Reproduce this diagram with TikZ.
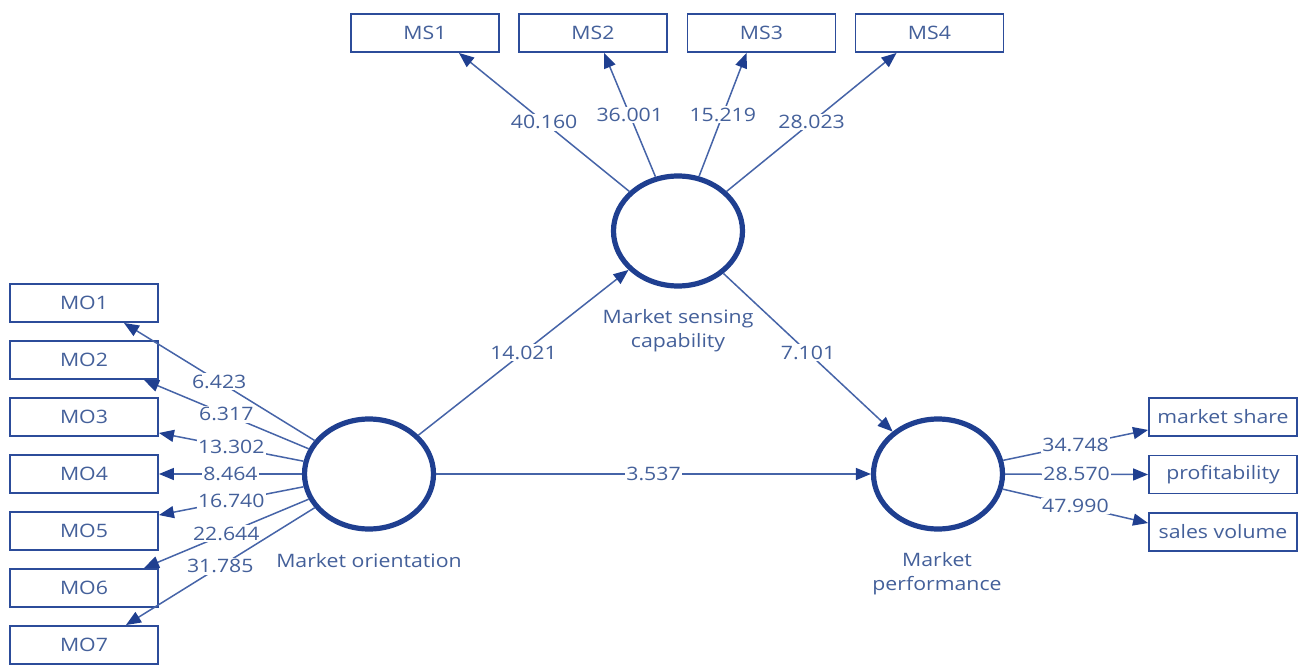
\documentclass[tikz,border=0pt]{standalone}
\usepackage{fontspec}
\setmainfont{Open Sans}[FakeStretch=1.15]
\usetikzlibrary{shapes.geometric,arrows.meta,calc}
\definecolor{navy}{HTML}{1F3F90}
\definecolor{linkblue}{HTML}{4664A8}
\definecolor{txtblue}{HTML}{44609A}
\definecolor{boxblue}{HTML}{2C4C9A}

\begin{document}
\begin{tikzpicture}[x=1pt,y=-1pt,
  every node/.style={font=\fontsize{18.5}{24}\selectfont, text=txtblue},
  ind/.style={draw=boxblue, line width=1.9pt, minimum width=148pt, minimum height=38pt, inner sep=0pt, fill=white},
  lat/.style={ellipse, draw=navy, line width=5.2pt, minimum width=129pt, minimum height=110pt, inner sep=0pt},
  link/.style={draw=linkblue, line width=1.5pt, -{Triangle[length=15pt,width=12pt,color=navy]}},
  coef/.style={fill=white, inner sep=1.5pt},
  caption/.style={align=center, inner sep=0pt},
]
\fill[white] (0,0) rectangle (1298,666);
\useasboundingbox (0,0) rectangle (1298,666);

% latent variables
\node[lat] (MO) at (369,474) {};
\node[lat] (MS) at (678,231) {};
\node[lat] (MP) at (938,474) {};

\node[caption] (MOcap) at (369,561) {Market orientation};
\node[caption] (MScap) at (678,331) {Market sensing\\capability};
\node[caption] (MPcap) at (937,574) {Market\\performance};

% indicators of market sensing capability
\node[ind] (MS1) at (425,33) {MS1};
\node[ind] (MS2) at (593,33) {MS2};
\node[ind] (MS3) at (761.5,33) {MS3};
\node[ind] (MS4) at (929.5,33) {MS4};

% indicators of market orientation
\node[ind] (MO1) at (84,303) {MO1};
\node[ind] (MO2) at (84,360) {MO2};
\node[ind] (MO3) at (84,417) {MO3};
\node[ind] (MO4) at (84,474) {MO4};
\node[ind] (MO5) at (84,531) {MO5};
\node[ind] (MO6) at (84,588) {MO6};
\node[ind] (MO7) at (84,645) {MO7};

% indicators of market performance
\node[ind] (share) at (1223,417) {market share};
\node[ind] (profit) at (1223,474.5) {profitability};
\node[ind] (sales) at (1223,532) {sales volume};

% outer loadings
\draw[link] (MS) -- node[coef] {40.160} ([xshift=-41pt]MS1.south east);
\draw[link] (MS) -- node[coef] {36.001} ([xshift=86pt]MS2.south west);
\draw[link] (MS) -- node[coef] {15.219} ([xshift=60pt]MS3.south west);
\draw[link] (MS) -- node[coef] {28.023} ([xshift=42pt]MS4.south west);

\draw[link] (MO) -- node[coef] {6.423} ([xshift=-35pt]MO1.south east);
\draw[link] (MO) -- node[coef] {6.317} ([xshift=-15pt]MO2.south east);
\draw[link] (MO) -- node[coef] {13.302} ([yshift=4pt]MO3.south east);
\draw[link] (MO) -- node[coef] {8.464} (MO4.east);
\draw[link] (MO) -- node[coef] {16.740} ([yshift=-4pt]MO5.north east);
\draw[link] (MO) -- node[coef] {22.644} ([xshift=-15pt]MO6.north east);
\draw[link] (MO) -- node[coef] {31.785} ([xshift=-33pt]MO7.north east);

\draw[link] (MP) -- node[coef] {34.748} ([yshift=7pt]share.south west);
\draw[link] (MP) -- node[coef] {28.570} (profit.west);
\draw[link] (MP) -- node[coef] {47.990} ([yshift=-11pt]sales.north west);

% structural paths
\draw[link] (MO) -- node[coef] {14.021} (MS);
\draw[link] (MS) -- node[coef] {7.101} (MP);
\draw[link] (MO) -- node[coef] {3.537} (MP);
\end{tikzpicture}
\end{document}
